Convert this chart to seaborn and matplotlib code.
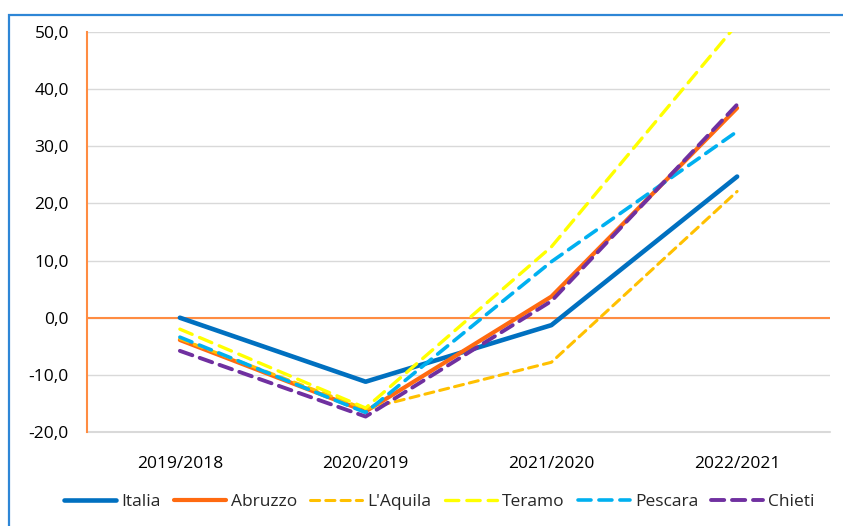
import matplotlib
matplotlib.use("Agg")
import matplotlib.pyplot as plt
import matplotlib.patches as mpatches
from matplotlib.ticker import FuncFormatter
import seaborn as sns

# Year-on-year change (%) by area
periods = ["2019/2018", "2020/2019", "2021/2020", "2022/2021"]
italia = [0.0, -11.2, -1.3, 24.7]
abruzzo = [-3.9, -16.4, 3.7, 36.7]
laquila = [-3.7, -16.0, -7.8, 22.1]
teramo = [-2.0, -15.8, 12.4, 51.4]
pescara = [-3.4, -16.6, 9.8, 32.6]
chieti = [-5.8, -17.3, 2.9, 37.3]

series = {
    "Italia": italia,
    "Abruzzo": abruzzo,
    "L'Aquila": laquila,
    "Teramo": teramo,
    "Pescara": pescara,
    "Chieti": chieti,
}

styles = {
    "Italia":   dict(color="#0070C0", lw=3.3, dashes=None),
    "Abruzzo":  dict(color="#FF6A10", lw=3.0, dashes=None),
    "L'Aquila": dict(color="#FFC000", lw=2.2, dashes=(3.0, 2.0)),
    "Teramo":   dict(color="#FFFF00", lw=2.4, dashes=(4.0, 2.4)),
    "Pescara":  dict(color="#00B0F0", lw=2.6, dashes=(3.6, 2.2)),
    "Chieti":   dict(color="#7030A0", lw=2.8, dashes=(3.4, 2.0)),
}

sns.set_theme(style="white")
plt.rcParams["font.family"] = ["Open Sans", "DejaVu Sans"]

fig = plt.figure(figsize=(8.43, 5.26), dpi=100)
ax = fig.add_axes([87 / 843, 1 - 432 / 526, (830 - 87) / 843, 400 / 526])

for name, vals in series.items():
    st = styles[name]
    sns.lineplot(x=periods, y=vals, ax=ax, sort=False, color=st["color"],
                 linewidth=st["lw"], label=name,
                 solid_capstyle="round", dash_capstyle="round")
    ln = ax.get_lines()[-1]
    if st["dashes"] is not None:
        ln.set_dashes(st["dashes"])

ax.set_xlim(-0.5, 3.5)
ax.set_ylim(-20, 50)
ax.set_yticks(range(-20, 51, 10))
ax.yaxis.set_major_formatter(FuncFormatter(lambda v, p: f"{v:.1f}".replace(".", ",")))
ax.grid(axis="y", color="#D9D9D9", linewidth=1.0)
ax.grid(axis="x", visible=False)
ax.set_axisbelow(True)
ax.axhline(0, color="#FF8C42", linewidth=1.5, zorder=1.5)
ax.axhline(-20, color="#D9D9D9", linewidth=1.5, zorder=0.5, clip_on=False)

for s in ["top", "right", "bottom"]:
    ax.spines[s].set_visible(False)
ax.spines["left"].set_color("#FF8C42")
ax.spines["left"].set_linewidth(1.5)
ax.tick_params(axis="both", length=0, labelsize=12.5, colors="#000000")
ax.tick_params(axis="y", pad=13)
ax.tick_params(axis="x", pad=17)
ax.set_xlabel("")
ax.set_ylabel("")

ax.legend(loc="center", bbox_to_anchor=(0.5 - 19 / 743, -0.175), ncol=6, frameon=False,
          fontsize=12.5, handlelength=3.0, handletextpad=0.3, columnspacing=0.75)

# outer frame of the figure box
frame = mpatches.Rectangle((9 / 843, -0.05), 1.0, 1 - 15 / 526 + 0.05,
                           transform=fig.transFigure, fill=False,
                           edgecolor="#2E86D6", linewidth=1.6, clip_on=False)
fig.patches.append(frame)

fig.savefig("out.png", dpi=100)
